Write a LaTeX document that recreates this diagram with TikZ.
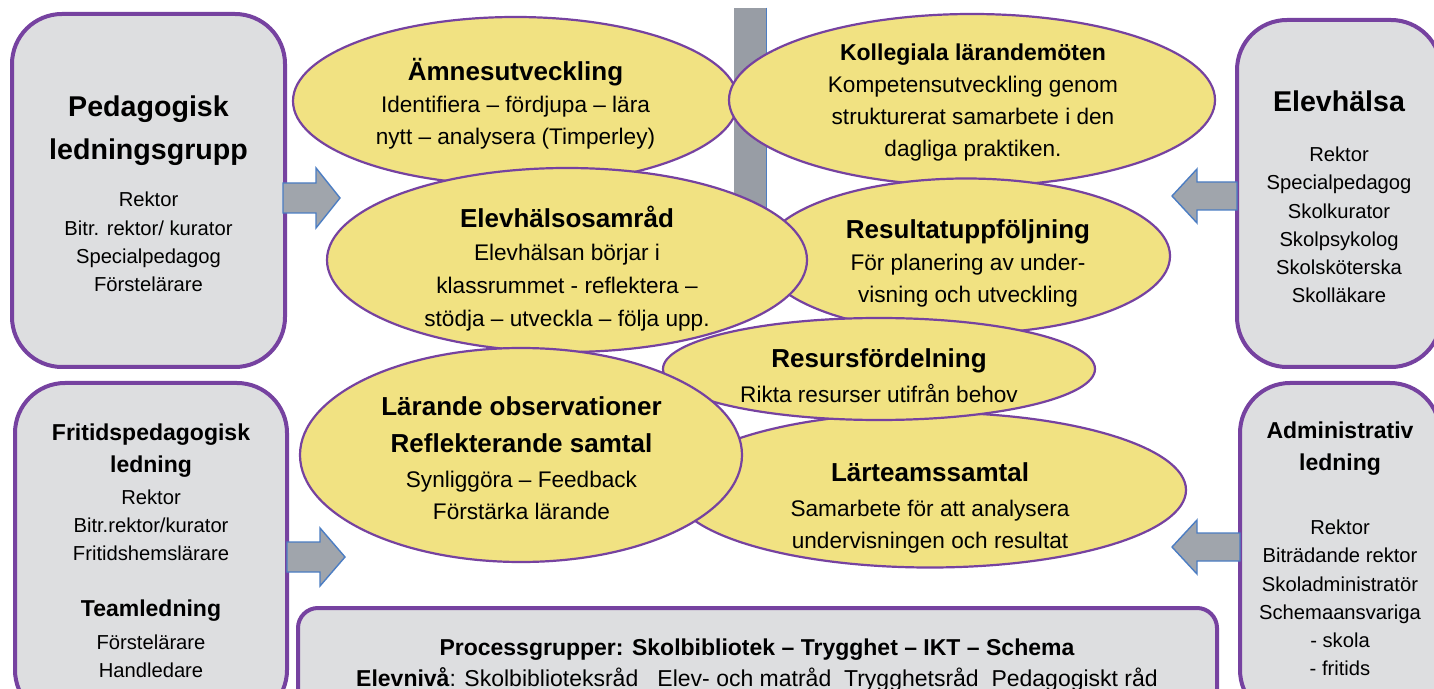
\documentclass[tikz,border=0pt]{standalone}
\usepackage{fontspec}
\setmainfont{Liberation Sans}
\usetikzlibrary{shapes.geometric}
\definecolor{purp}{RGB}{118,66,160}
\definecolor{boxgray}{RGB}{221,222,224}
\definecolor{ellyellow}{RGB}{241,226,130}
\definecolor{arrowgray}{RGB}{160,165,172}
\definecolor{arrowblue}{RGB}{75,125,195}
\definecolor{bargray}{RGB}{152,157,165}
\newcommand\setfs[2]{\fontsize{#1}{#2}\selectfont}
\newcommand\etitle{\fontsize{13}{16}\selectfont\bfseries}
\newcommand\etitleS{\fontsize{11.5}{16}\selectfont\bfseries}
\tikzset{
  grpbox/.style={draw=purp, line width=2pt, fill=boxgray, rounded corners=25pt, inner sep=0pt},
  ell/.style={ellipse, draw=purp, line width=1.1pt, fill=ellyellow, inner sep=0pt},
  blockarr/.style={draw=arrowblue, fill=arrowgray, line width=0.7pt, line join=miter},
  bigtitle/.style={align=center, inner sep=0pt, font=\setfs{14.3}{21.5}\bfseries},
  smalltitle/.style={align=center, inner sep=0pt, font=\setfs{11.5}{16}\bfseries},
  boxbody/.style={align=center, inner sep=0pt, font=\setfs{10.1}{14.1}},
  etext/.style={align=center, inner sep=0pt, font=\setfs{11.3}{16}},
  btext/.style={align=center, inner sep=0pt, font=\setfs{11.5}{15.5}},
}
\begin{document}
\begin{tikzpicture}[x=0.5pt,y=-0.5pt]
\useasboundingbox (0,0) rectangle (1434,689);
\clip (0,0) rectangle (1434,689);
\fill[white] (0,0) rectangle (1434,689);

% vertical bar behind the ellipses
\node[fill=bargray, minimum width=16pt, minimum height=111pt, inner sep=0pt] (bar) at (750,119) {};
\draw[arrowblue, line width=0.6pt] (bar.north east) -- (bar.south east);

% side boxes
\node[grpbox, minimum width=136.5pt, minimum height=176.5pt] (b1) at (148.5,190.5) {};
\node[bigtitle] (b1t) at (148.5,131) {Pedagogisk\\ledningsgrupp};
\node[boxbody] (b1b) at (148.5,242) {Rektor\\Bitr. rektor/ kurator\\Specialpedagog\\Förstelärare};

\node[grpbox, minimum width=102pt, minimum height=173.5pt] (b2) at (1339,193.5) {};
\node[bigtitle] (b2t) at (1339,101) {Elevhälsa};
\node[boxbody] (b2b) at (1339,225) {Rektor\\Specialpedagog\\Skolkurator\\Skolpsykolog\\Skolsköterska\\Skolläkare};

\node[grpbox, minimum width=136pt, minimum height=168.5pt] (b3) at (151,551.5) {};
\node[smalltitle] (b3t) at (151,451) {Fritidspedagogisk\\ledning};
\node[boxbody] (b3b) at (151,525) {Rektor\\Bitr.rektor/kurator\\Fritidshemslärare};
\node[smalltitle] (b3t2) at (151,611) {Teamledning};
\node[boxbody] (b3b2) at (151,656) {Förstelärare\\Handledare};

\node[grpbox, minimum width=100pt, minimum height=168.5pt] (b4) at (1340,551.5) {};
\node[smalltitle] (b4t) at (1340,449) {Administrativ\\ledning};
\node[boxbody] (b4b) at (1340,598) {Rektor\\Biträdande rektor\\Skoladministratör\\Schemaansvariga\\- skola\\- fritids};

\node[grpbox, rounded corners=10pt, minimum width=459.5pt, minimum height=66pt] (b5) at (757.5,674) {};
\node[btext] (b5t) at (757,665) {\textbf{Processgrupper: Skolbibliotek – Trygghet – IKT – Schema}\\\textbf{Elevnivå}: Skolbiblioteksråd\ \ \ Elev- och matråd\ \ Trygghetsråd\ \ Pedagogiskt råd};

% block arrows (start at the box edge)
\coordinate (a1) at (283,198);
\coordinate (a2) at (287,557);
\coordinate (a3) at (1237,196);
\coordinate (a4) at (1240,547);
\draw[blockarr] (a1) ++(0,-15) -- ++(33,0) -- ++(0,-15) -- ++(24,30) -- ++(-24,30) -- ++(0,-15) -- ++(-33,0) -- cycle;
\draw[blockarr] (a2) ++(0,-15) -- ++(33,0) -- ++(0,-14) -- ++(25,29) -- ++(-25,29) -- ++(0,-14) -- ++(-33,0) -- cycle;
\draw[blockarr] (a3) ++(0,-14) -- ++(-40,0) -- ++(0,-13) -- ++(-25,27) -- ++(25,27) -- ++(0,-13) -- ++(40,0) -- cycle;
\draw[blockarr] (a4) ++(0,-14) -- ++(-43,0) -- ++(0,-13) -- ++(-25,27) -- ++(25,27) -- ++(0,-13) -- ++(43,0) -- cycle;

% ellipses
\node[ell, minimum width=222.5pt, minimum height=84pt] (e1) at (515.5,101) {};
\node[etext] (e1t) at (515.5,104) {{\etitle Ämnesutveckling}\\Identifiera – fördjupa – lära\\nytt – analysera (Timperley)};

\node[ell, minimum width=243pt, minimum height=86pt] (e2) at (972,100) {};
\node[etext] (e2t) at (973,103) {{\etitleS Kollegiala lärandemöten}\\Kompetensutveckling genom\\strukturerat samarbete i den\\dagliga praktiken.};

\node[ell, minimum width=204pt, minimum height=77.5pt] (e4) at (966,256) {};
\node[etext] (e4t) at (968,263) {{\etitle Resultatuppföljning}\\För planering av under-\\visning och utveckling};

\node[ell, minimum width=240pt, minimum height=92pt] (e3) at (567,260) {};
\node[etext, font=\setfs{11.3}{16.5}] (e3t) at (567,269) {{\etitle Elevhälsosamråd}\\Elevhälsan börjar i\\klassrummet - reflektera –\\stödja – utveckla – följa upp.};

\node[ell, minimum width=256pt, minimum height=77.5pt] (e7) at (930,490) {};
\node[etext] (e7t) at (930,508) {{\etitle Lärteamssamtal}\\[1.5pt]Samarbete för att analysera\\undervisningen och resultat};

\node[ell, minimum width=216pt, minimum height=51pt] (e5) at (879,369) {};
\node[etext] (e5t) at (879,376) {{\etitle Resursfördelning}\\[1.5pt]Rikta resurser utifrån behov};

\node[ell, minimum width=221pt, minimum height=107pt] (e6) at (521,455) {};
\node[etext] (e6t) at (521.5,458) {{\etitle Lärande observationer}\\[2.5pt]{\etitle Reflekterande samtal}\\[1.5pt]Synliggöra – Feedback\\Förstärka lärande};
\end{tikzpicture}
\end{document}
